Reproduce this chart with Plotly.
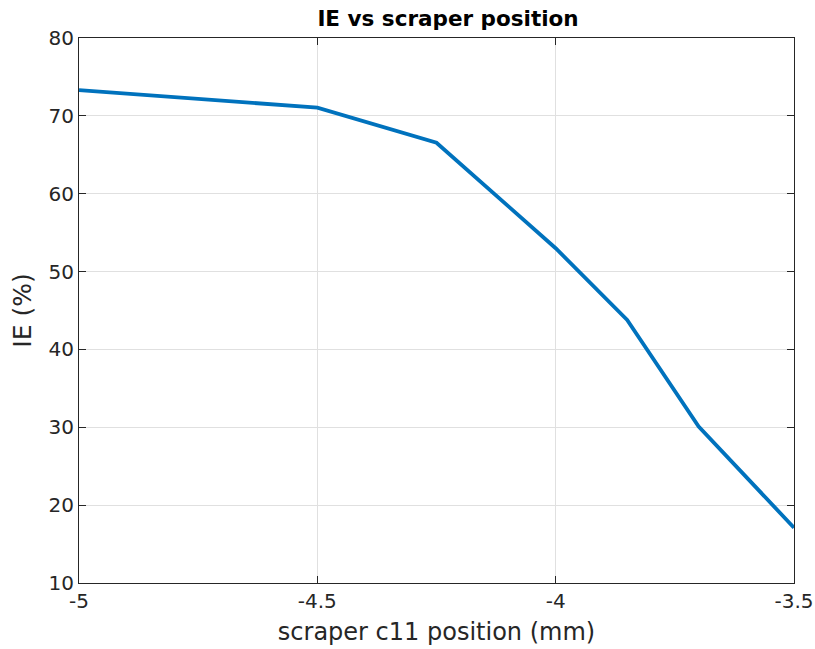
import plotly.graph_objects as go

positions = [-5.0, -4.5, -4.25, -4.0, -3.85, -3.7, -3.5]
ie_values = [73.3, 71.05, 66.55, 53.0, 43.8, 30.1, 17.1]
x_ticks = [-5, -4.5, -4, -3.5]
x_tick_labels = ["-5", "-4.5", "-4", "-3.5"]
y_ticks = [10, 20, 30, 40, 50, 60, 70, 80]

fig = go.Figure()
fig.add_trace(go.Scatter(x=positions, y=ie_values, mode="lines",
                         line=dict(color="#0072BD", width=3.8), showlegend=False))

axis_common = dict(showline=True, linecolor="#262626", linewidth=1, mirror="ticks",
                   ticks="inside", ticklen=7, tickcolor="#262626", automargin=False,
                   showgrid=True, gridcolor="#E0E0E0", gridwidth=1, zeroline=False,
                   tickfont=dict(family="DejaVu Sans", size=20, color="#262626"))

fig.update_xaxes(range=[-5, -3.5], tickvals=x_ticks, ticktext=x_tick_labels,
                 title=dict(text="scraper c11 position (mm)",
                            font=dict(family="DejaVu Sans", size=24, color="#262626"),
                            standoff=11),
                 **axis_common)
fig.update_yaxes(range=[10, 80], tickvals=y_ticks,
                 title=dict(text="IE (%)",
                            font=dict(family="DejaVu Sans", size=25, color="#262626"),
                            standoff=9),
                 **axis_common)

fig.update_layout(
    width=815, height=649,
    margin=dict(l=79, r=21, t=38, b=66),
    plot_bgcolor="white", paper_bgcolor="white",
    title=dict(text="<b>IE vs scraper position</b>", x=448 / 815, xanchor="center",
               y=1 - 18/649, yanchor="middle",
               font=dict(family="DejaVu Sans", size=21.5, color="black")),
)

fig.write_html("out.html")
